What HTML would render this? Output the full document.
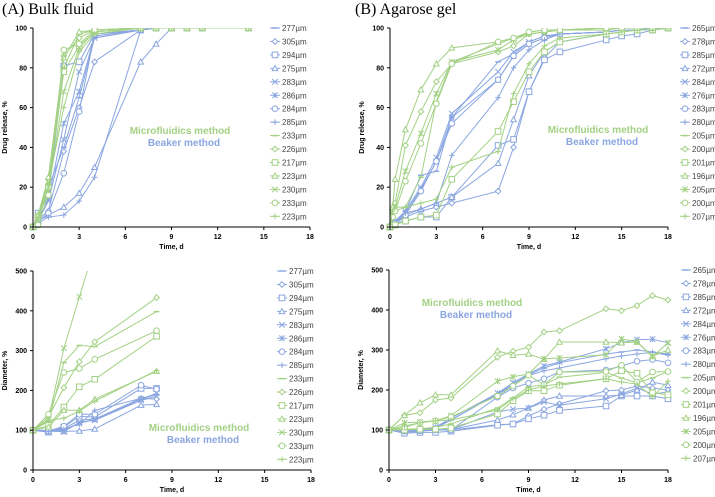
<!DOCTYPE html>
<html><head><meta charset="utf-8"><style>
body{margin:0;background:#fff;width:715px;height:497px;overflow:hidden}
svg{display:block;font-family:"Liberation Sans",sans-serif}
</style></head><body>
<svg id="fig" width="715" height="497">
<text x="2" y="14" font-family="Liberation Serif" font-size="16">(A)   Bulk fluid</text>
<text x="355" y="14" font-family="Liberation Serif" font-size="16">(B)   Agarose gel</text>
</svg>
<script>
const BLUE='#8aa6e0', GREEN='#a3d184';
const blueMarkers=['none','diamond','square','triangle','x','star','circle','plus'];
const greenMarkersA=['none','diamond','square','triangle','x','circle','plus'];
const greenMarkersB=['none','diamond','square','triangle','star','circle','plus'];
const legendA=['277µm','305µm','294µm','275µm','283µm','286µm','284µm','285µm','233µm','226µm','217µm','223µm','230µm','233µm','223µm'];
const legendB=['265µm','278µm','285µm','272µm','284µm','276µm','283µm','280µm','205µm','200µm','201µm','196µm','205µm','200µm','207µm'];
const xTicks=[0,3,6,9,12,15,18];
const relTicks=[0,20,40,60,80,100];
const diaTicks=[0,100,200,300,400,500];

const timeA1=[0,0.33,1,2,3,4,7,8,9,10,11,14];
const relA=[
[0,5,20,40,65,95,99,100,100,100,100,100],
[0,4,8,38,60,83,99,100,100,100,100,100],
[0,7,15,81,83,97,99,100,100,100,100,100],
[0,3,6,10,17,30,83,92,100,100,100,100],
[0,3,13,44,78,95,99,100,100,100,100,100],
[0,4,14,52,68,96,99,100,100,100,100,100],
[0,3,7,27,58,97,99,100,100,100,100,100],
[0,2,5,6,13,25,99,100,100,100,100,100],
[0,5,22,80,97,99,100,100,100,100,100,100],
[0,6,24,86,95,99,100,100,100,100,100,100],
[0,5,20,78,91,98,100,100,100,100,100,100],
[0,6,25,85,98,99,100,100,100,100,100,100],
[0,4,18,68,90,98,100,100,100,100,100,100],
[0,1,16,89,92,99,100,100,100,100,100,100],
[0,5,21,60,88,97,100,100,100,100,100,100]];

const timeB1=[0,0.17,0.33,1,2,3,4,7,8,9,10,11,14,15,16,17,18];
const relB=[
[0,1,3,8,26,28,55,83,87,93,96,97,98,99,99,99,100],
[0,1,2,5,8,10,12,18,40,68,85,93,97,98,99,99,100],
[0,1,2,3,5,5,15,41,44,68,84,88,94,96,97,99,100],
[0,1,2,6,9,12,15,32,54,76,88,93,97,98,99,99,100],
[0,1,3,8,20,35,57,78,88,93,96,97,98,99,99,99,100],
[0,1,3,7,19,33,55,74,86,92,95,97,98,99,99,100,100],
[0,1,2,6,18,33,52,74,86,92,95,97,98,99,99,99,100],
[0,1,2,7,9,12,36,65,80,89,94,97,98,99,99,99,100],
[0,5,8,10,25,63,83,92,95,97,98,99,99,100,100,100,100],
[0,8,12,41,58,73,82,88,91,97,98,99,100,100,100,100,100],
[0,1,1,3,5,6,24,48,63,78,88,93,97,98,99,99,100],
[0,10,24,49,69,82,90,93,95,98,99,99,100,100,100,100,100],
[0,6,10,28,47,67,83,89,94,97,98,99,100,100,100,100,100],
[0,5,8,23,42,62,82,93,95,98,99,99,100,100,100,100,100],
[0,8,10,10,12,14,30,38,67,82,91,95,97,98,99,99,100]];

const timeA2=[0,1,2,3,4,7,8];
const diaA=[
[100,97,100,118,127,178,190],
[100,98,104,125,128,180,178],
[100,95,108,135,133,205,205],
[100,97,97,98,103,163,165],
[100,100,96,120,125,175,185],
[100,98,102,117,127,178,193],
[100,98,110,140,140,213,203],
[100,97,103,115,150,180,190],
[100,122,270,313,310,null,398],
[100,133,207,272,322,null,433],
[100,112,158,209,228,null,336],
[100,108,150,150,178,null,248],
[100,127,306,435,560,null,null],
[100,140,245,255,278,null,350],
[100,125,130,148,173,null,250]];

const timeB2=[0,1,2,3,4,7,8,9,10,11,14,15,16,17,18];
const diaB=[
[100,95,96,108,125,190,215,238,255,268,290,295,300,295,290],
[100,97,97,100,100,113,115,135,152,165,198,200,210,205,200],
[100,92,94,94,97,112,115,128,137,149,160,185,185,185,178],
[100,97,98,100,101,125,138,155,175,185,185,187,200,220,212],
[100,97,98,100,101,145,152,155,170,162,178,190,205,190,195],
[100,100,100,107,130,192,218,240,260,270,303,318,326,327,318],
[100,97,98,100,100,182,205,217,228,245,250,260,272,276,268],
[100,97,98,104,125,190,210,236,248,255,278,285,290,294,287],
[100,102,103,107,115,155,180,208,213,232,244,230,218,230,246],
[100,137,143,175,180,282,297,307,345,348,403,398,411,436,425],
[100,100,102,102,105,140,173,198,198,212,228,248,242,193,188],
[100,137,168,188,188,298,287,290,277,320,320,318,320,285,300],
[100,118,120,123,136,222,233,240,278,280,288,328,320,283,318],
[100,107,118,123,133,185,210,237,213,245,246,262,220,245,246],
[100,110,118,123,125,150,178,200,210,215,228,220,215,183,222]];

const NS='http://www.w3.org/2000/svg';
const fig=document.getElementById('fig');
function el(tag,attrs,parent){const e=document.createElementNS(NS,tag);for(const k in attrs)e.setAttribute(k,attrs[k]);(parent||fig).appendChild(e);return e;}
function marker(g,type,x,y,c){
  const s=2.8;let e=null;
  if(type==='diamond')e=el('polygon',{points:`${x},${y-s} ${x+s},${y} ${x},${y+s} ${x-s},${y}`,fill:'#fff',stroke:c},g);
  else if(type==='square')e=el('rect',{x:x-s,y:y-s,width:2*s,height:2*s,fill:'#fff',stroke:c},g);
  else if(type==='triangle')e=el('polygon',{points:`${x},${y-s} ${x+s},${y+s*0.8} ${x-s},${y+s*0.8}`,fill:'#fff',stroke:c},g);
  else if(type==='circle')e=el('circle',{cx:x,cy:y,r:s,fill:'#fff',stroke:c},g);
  else if(type==='x')e=el('path',{d:`M${x-s} ${y-s}L${x+s} ${y+s}M${x-s} ${y+s}L${x+s} ${y-s}`,stroke:c},g);
  else if(type==='star')e=el('path',{d:`M${x-s} ${y-s}L${x+s} ${y+s}M${x-s} ${y+s}L${x+s} ${y-s}M${x} ${y-s}L${x} ${y+s}`,stroke:c},g);
  else if(type==='plus')e=el('path',{d:`M${x-s} ${y}L${x+s} ${y}M${x} ${y-s}L${x} ${y+s}`,stroke:c},g);
  else e=el('path',{d:`M${x-s} ${y}L${x+s} ${y}`,stroke:c,'stroke-width':1.5},g);
  if(e){}
}
let clipId=0;
function panel(o){
  const g=el('g',{});
  
  
  const X=v=>o.x0+(o.x1-o.x0)*v/18, Y=v=>o.y0-(o.y0-o.y1)*v/o.ymax;
  const mkOf=i=>i<8?blueMarkers[i]:o.gm[i-8];
  const id='c'+(clipId++);
  const cp=el('clipPath',{id:id},g);el('rect',{x:o.x0-5,y:o.y1,width:o.x1-o.x0+10,height:o.y0-o.y1+5},cp);
  const sg=el('g',{'clip-path':`url(#${id})`},g);
  o.series.forEach((ser,i)=>{
    const c=i<8?BLUE:GREEN, mk=mkOf(i);
    const pts=[];ser.forEach((v,j)=>{if(v!==null)pts.push([X(o.time[j]),Y(v)]);});
    const pl=el('polyline',{points:pts.map(p=>p.join(',')).join(' '),fill:'none',stroke:c,'stroke-width':1},sg);
    
    
    pts.forEach(p=>{if(p[1]>=o.y1-1)marker(sg,mk,p[0],p[1],c);});
  });
  const ax=el('path',{d:`M${o.x0} ${o.y1}L${o.x0} ${o.y0}L${o.x1} ${o.y0}`,stroke:'#000',fill:'none','stroke-width':1},g);
  
  xTicks.forEach(t=>{el('path',{d:`M${X(t)} ${o.y0}L${X(t)} ${o.y0+3}`,stroke:'#000'},g);
    const tx=el('text',{x:X(t),y:o.y0+12,'font-size':7,'font-weight':'bold','text-anchor':'middle'},g);tx.textContent=t;
    });
  o.ticks.forEach(t=>{el('path',{d:`M${o.x0-3} ${Y(t)}L${o.x0} ${Y(t)}`,stroke:'#000'},g);
    const tx=el('text',{x:o.x0-6,y:Y(t)+2.5,'font-size':7,'font-weight':'bold','text-anchor':'end'},g);tx.textContent=t;
    });
  const yt=el('text',{transform:`translate(${o.x0-26},${(o.y0+o.y1)/2}) rotate(-90)`,'font-size':7,'font-weight':'bold','text-anchor':'middle'},g);yt.textContent=o.ytitle;
  
  const xt=el('text',{x:(o.x0+o.x1)/2,y:o.y0+22,'font-size':7,'font-weight':'bold','text-anchor':'middle'},g);xt.textContent='Time, d';
  
  const m=el('text',{x:o.ax,y:o.ay,'font-size':10,'font-weight':'bold',fill:GREEN,'text-anchor':'middle'},g);m.textContent='Microfluidics method';
  
  const b=el('text',{x:o.ax+4,y:o.ay+12,'font-size':10,'font-weight':'bold',fill:BLUE,'text-anchor':'middle'},g);b.textContent='Beaker method';
  
  o.legend.forEach((l,i)=>{
    const c=i<8?BLUE:GREEN, mk=mkOf(i), ly=o.ly+i*13.45;
    const lg=el('g',{},g);
    
    el('path',{d:`M${o.lx} ${ly}L${o.lx+10} ${ly}`,stroke:c},lg);
    marker(lg,mk,o.lx+5,ly,c);
    const t=el('text',{x:o.lx+12,y:ly+3,'font-size':8,fill:'#444'},lg);t.textContent=l;
  });
}
panel({name:'panel-a-release',x0:33,x1:310,y0:227,y1:28,ymax:100,ticks:relTicks,time:timeA1,series:relA,legend:legendA,gm:greenMarkersA,ytitle:'Drug release, %',lx:270,ly:28,ax:180,ay:134});
panel({name:'panel-b-release',x0:390,x1:668,y0:227,y1:28,ymax:100,ticks:relTicks,time:timeB1,series:relB,legend:legendB,gm:greenMarkersB,ytitle:'Drug release, %',lx:680,ly:28,ax:598,ay:133});
panel({name:'panel-a-diameter',x0:33,x1:311,y0:470,y1:271,ymax:500,ticks:diaTicks,time:timeA2,series:diaA,legend:legendA,gm:greenMarkersA,ytitle:'Diameter, %',lx:277,ly:271,ax:199,ay:431});
panel({name:'panel-b-diameter',x0:389,x1:668,y0:470,y1:270,ymax:500,ticks:diaTicks,time:timeB2,series:diaB,legend:legendB,gm:greenMarkersB,ytitle:'Diameter, %',lx:681,ly:270,ax:472,ay:306});
</script>
</body></html>
